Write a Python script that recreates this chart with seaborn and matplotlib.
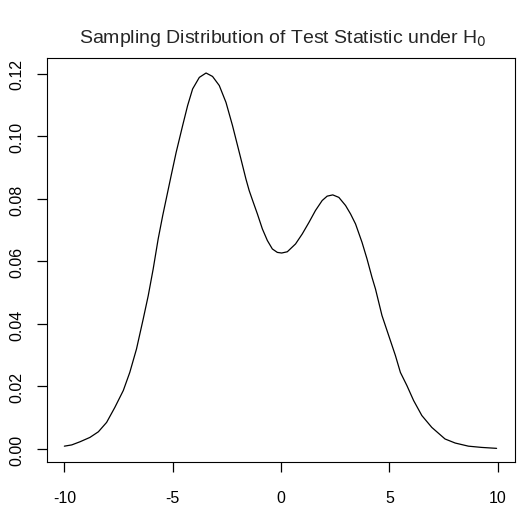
import matplotlib
matplotlib.use("Agg")
import matplotlib.pyplot as plt
import seaborn as sns
import pandas as pd

# === DATA ===
stat_x = [-10.0, -9.66, -9.28, -8.82, -8.43, -8.05, -7.67, -7.28, -6.98, -6.67,
          -6.36, -6.13, -5.90, -5.67, -5.46, -5.07, -4.84, -4.54, -4.31, -4.08,
          -3.77, -3.46, -3.16, -2.85, -2.54, -2.24, -1.85, -1.62, -1.47, -1.32,
          -1.09, -0.86, -0.63, -0.40, -0.17, 0.03, 0.29, 0.67, 0.98, 1.29,
          1.59, 1.90, 2.13, 2.39, 2.67, 2.98, 3.21, 3.44, 3.74, 3.97,
          4.20, 4.36, 4.66, 4.97, 5.28, 5.51, 5.81, 6.12, 6.50, 6.96,
          7.57, 8.04, 8.65, 9.26, 9.95]
density_y = [0.0009, 0.0013, 0.0023, 0.0037, 0.0055, 0.0085, 0.0133, 0.0187, 0.0245, 0.0320,
             0.0416, 0.0490, 0.0576, 0.0672, 0.0747, 0.0875, 0.0949, 0.1035, 0.1099, 0.1152,
             0.1189, 0.1203, 0.1192, 0.1163, 0.1109, 0.1035, 0.0928, 0.0864, 0.0827, 0.0797,
             0.0752, 0.0704, 0.0667, 0.0640, 0.0629, 0.0627, 0.0631, 0.0656, 0.0688, 0.0725,
             0.0763, 0.0795, 0.0809, 0.0813, 0.0805, 0.0779, 0.0752, 0.0720, 0.0661, 0.0608,
             0.0549, 0.0512, 0.0427, 0.0363, 0.0299, 0.0245, 0.0203, 0.0155, 0.0107, 0.0069,
             0.0032, 0.0019, 0.0009, 0.0005, 0.0002]
x_ticks = [-10, -5, 0, 5, 10]
y_ticks = [0.00, 0.02, 0.04, 0.06, 0.08, 0.10, 0.12]

df = pd.DataFrame({"x": stat_x, "density": density_y})

sns.set_style("ticks")
plt.rcParams["font.family"] = ["Liberation Sans", "DejaVu Sans"]

fig = plt.figure(figsize=(5.19, 5.10), dpi=100)
ax = fig.add_axes([0.0906, 0.0922, 0.9017, 0.7921])

sns.lineplot(data=df, x="x", y="density", color="black", linewidth=0.9, ax=ax)

ax.set_xlim(-10.8, 10.8)
ax.set_ylim(-0.00416, 0.1251)
ax.set_xticks(x_ticks)
ax.set_xticklabels([str(t) for t in x_ticks])
ax.set_yticks(y_ticks)
ax.set_yticklabels([f"{t:.2f}" for t in y_ticks], rotation=90, va="center")
ax.tick_params(axis="both", which="major", direction="out", length=7, width=0.9,
               color="black", labelcolor="black", labelsize=11.5,
               bottom=True, left=True)
ax.tick_params(axis="x", pad=13)
ax.tick_params(axis="y", pad=9)
ax.set_xlabel("")
ax.set_ylabel("")
for s in ax.spines.values():
    s.set_visible(True)
    s.set_color("black")
    s.set_linewidth(0.8)

fig.suptitle("Sampling Distribution of Test Statistic under H$_0$", y=0.945,
             fontsize=14, x=0.545)
fig.savefig("out.png", dpi=100, facecolor="white")
